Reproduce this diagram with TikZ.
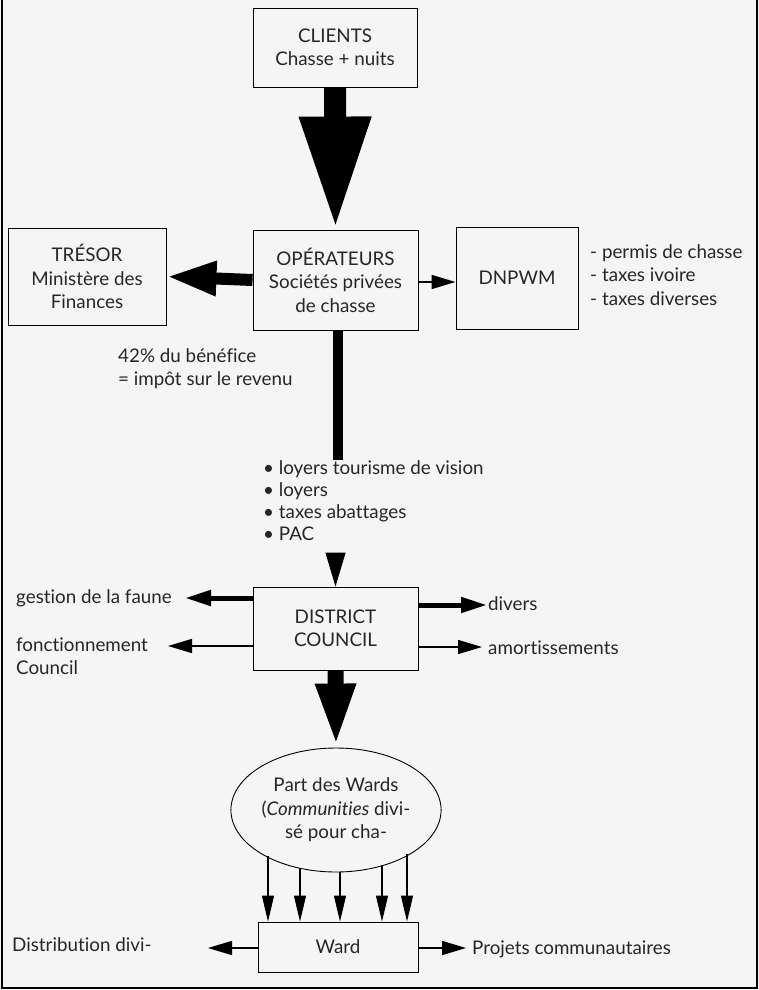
\documentclass[tikz,border=0pt]{standalone}
\usepackage{fontspec}
\setmainfont{Lato}[Ligatures=NoCommon]
\usetikzlibrary{arrows.meta,shapes.geometric,calc}
\begin{document}
\begin{tikzpicture}[x=1pt,y=-1pt,
  every node/.style={font=\fontsize{18.8}{23.5}\selectfont, text=black!85},
  box/.style={draw, line width=0.9pt, rectangle, align=center, inner sep=0pt},
  lbl/.style={align=left, inner sep=0pt},
  huge arrow/.style={line width=22pt, -{Triangle[width=66pt,length=113pt]}},
  big arrow/.style={line width=16pt, -{Triangle[width=36pt,length=64pt]}},
  mid arrow/.style={line width=12pt, -{Triangle[width=32pt,length=50pt]}},
  bar/.style={line width=10pt},
  thick arrow/.style={line width=5pt, -{Triangle[width=15pt,length=26pt]}},
  thin arrow/.style={line width=1.6pt, -{Triangle[width=14pt,length=24pt]}},
  fine arrow/.style={line width=1.2pt, -{Triangle[width=12pt,length=26pt]}}
]
\useasboundingbox (0,0) rectangle (759,990);
\fill[black!4] (0,0) rectangle (759,990);
\draw[line width=1.2pt] (2,0) -- (2,988) -- (757,988) -- (757,0);

% boxes
\node[box, minimum width=164pt, minimum height=79pt] (clients) at (335,47.5) {CLIENTS\\Chasse + nuits};
\node[box, minimum width=158pt, minimum height=97pt] (tresor) at (87,276.5) {TRÉSOR\\Ministère des\\Finances};
\node[box, minimum width=165pt, minimum height=100pt] (ops) at (335.5,280) {OPÉRATEURS\\Sociétés privées\\de chasse};
\node[box, minimum width=122pt, minimum height=102pt] (dnpwm) at (517,278) {DNPWM};
\node[box, minimum width=165pt, minimum height=83pt] (district) at (335.5,628.5) {DISTRICT\\COUNCIL};
\node[draw, line width=0.9pt, ellipse, minimum width=200pt, minimum height=124pt, inner sep=0pt, align=center] (wards) at (336,810) {Part des Wards\\(\textit{Communities} divi-\\sé pour cha-};
\node[box, minimum width=160pt, minimum height=50pt] (ward) at (338,947) {Ward};

% labels
\node[lbl, anchor=west] (dlist) at (590,275) {- permis de chasse\\- taxes ivoire\\- taxes diverses};
\node[lbl, anchor=north west] (impot) at (118,348) {42\% du bénéfice\\= impôt sur le revenu};
\node[lbl, anchor=north west, font=\fontsize{18.8}{22}\selectfont] (bullets) at (263,460) {• loyers tourisme de vision\\• loyers\\• taxes abattages\\• PAC};
\node[lbl, anchor=west] (gestion) at (16,598) {gestion de la faune};
\node[lbl, anchor=west] (fonct) at (16,656) {fonctionnement\\Council};
\node[lbl, anchor=west] (divers) at (488,604) {divers};
\node[lbl, anchor=west] (amort) at (488,648) {amortissements};
\node[lbl, anchor=west] (distrib) at (12,945) {Distribution divi-};
\node[lbl, anchor=west] (projets) at (472,949) {Projets communautaires};

% connectors
\draw[huge arrow] (clients.south) -- (ops.north);
\draw[mid arrow] (ops.west) -- (tresor.east);
\draw[thin arrow] (ops.east |- 0,282) -- (dnpwm.west |- 0,282);
\coordinate (barend) at (338,460);
\draw[bar] (ops.south -| barend) -- (barend);
\coordinate (headtop) at (335.5,553);
\draw[line width=1pt, -{Triangle[width=20pt,length=34pt]}] (headtop) -- (district.north);

\coordinate (gend) at (185,598);
\coordinate (fend) at (168,646);
\coordinate (dend) at (487,605);
\coordinate (aend) at (482,647);
\draw[thick arrow] (district.west |- gend) -- (gend);
\draw[thin arrow] (district.west |- fend) -- (fend);
\draw[thick arrow] (district.east |- dend) -- (dend);
\draw[thin arrow] (district.east |- aend) -- (aend);

\draw[big arrow] (district.south) -- (wards.north);

\coordinate (e1) at (268,855.5);
\coordinate (e2) at (300,868);
\coordinate (e3) at (340,872);
\coordinate (e4) at (382,865);
\coordinate (e5) at (407,854);
\foreach \e in {e1,e2,e3,e4,e5}
  \draw[fine arrow] (\e) -- (\e |- ward.north);

\coordinate (wl) at (208,948);
\coordinate (wr) at (466,948);
\draw[thin arrow] (ward.west |- wl) -- (wl);
\draw[thin arrow] (ward.east |- wr) -- (wr);
\end{tikzpicture}
\end{document}
